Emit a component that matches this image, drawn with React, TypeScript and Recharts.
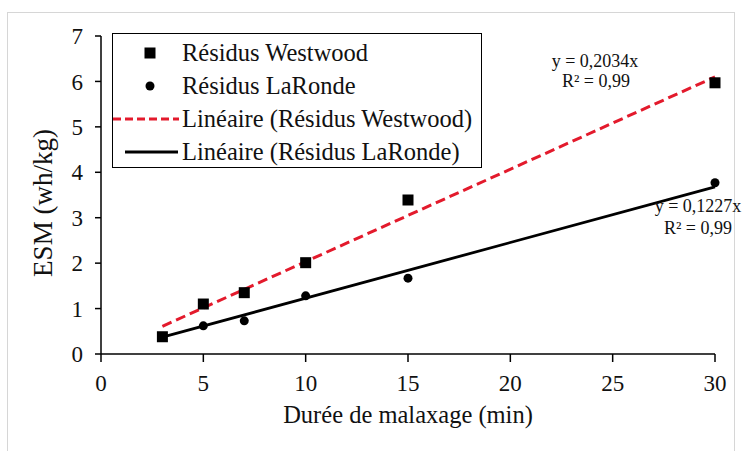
import { Label, Legend, Scatter, ScatterChart, XAxis, YAxis } from "recharts";

const xTicks = [0, 5, 10, 15, 20, 25, 30];
const yTicks = [0, 1, 2, 3, 4, 5, 6, 7];

const dureeMin = [3, 5, 7, 10, 15, 30];
const westwoodEsm = [0.38, 1.1, 1.35, 2.01, 3.39, 5.97];
const larondeEsm = [0.37, 0.62, 0.73, 1.28, 1.67, 3.77];

// droites de tendance (extrémités)
const trendX = [3, 30];
const westwoodTrend = [0.61, 6.1];
const larondeTrend = [0.37, 3.68];

const RED = "#E31A2C";
const FONT = "Liberation Serif, Times New Roman, serif";

const toPoints = (xs: number[], ys: number[]) =>
  xs.map((x, i) => ({ x, y: ys[i] }));

const westwoodData = toPoints(dureeMin, westwoodEsm);
const larondeData = toPoints(dureeMin, larondeEsm);
const westwoodTrendData = toPoints(trendX, westwoodTrend);
const larondeTrendData = toPoints(trendX, larondeTrend);

const Square = (p: any) => (
  <rect x={p.cx - 5.5} y={p.cy - 5.5} width={11} height={11} fill="#000" />
);
const Dot = (p: any) => <circle cx={p.cx} cy={p.cy} r={4.5} fill="#000" />;
const NoShape = () => <g />;

const tickStyle = { fill: "#111", fontSize: 23, fontFamily: FONT };

function LegendBox() {
  const row = { position: "relative", height: 33, display: "flex", alignItems: "center" } as const;
  const text = { position: "absolute", left: 69, whiteSpace: "nowrap" } as const;
  return (
    <div
      style={{
        border: "1.5px solid #000",
        width: 370,
        height: 135,
        boxSizing: "border-box",
        paddingTop: 2,
        fontFamily: FONT,
        fontSize: 24.5,
        color: "#111",
        background: "#fff",
      }}
    >
      <div style={row}>
        <svg width={12} height={12} style={{ position: "absolute", left: 31 }}>
          <rect x={0.5} y={0.5} width={11} height={11} fill="#000" />
        </svg>
        <span style={text}>Résidus Westwood</span>
      </div>
      <div style={row}>
        <svg width={10} height={10} style={{ position: "absolute", left: 32 }}>
          <circle cx={5} cy={5} r={4.5} fill="#000" />
        </svg>
        <span style={text}>Résidus LaRonde</span>
      </div>
      <div style={row}>
        <svg width={66} height={6} style={{ position: "absolute", left: 0 }}>
          <line x1={0} y1={3} x2={66} y2={3} stroke={RED} strokeWidth={3} strokeDasharray="8 4" />
        </svg>
        <span style={text}>Linéaire (Résidus Westwood)</span>
      </div>
      <div style={row}>
        <svg width={53} height={6} style={{ position: "absolute", left: 12 }}>
          <line x1={0} y1={3} x2={53} y2={3} stroke="#000" strokeWidth={3} />
        </svg>
        <span style={text}>Linéaire (Résidus LaRonde)</span>
      </div>
    </div>
  );
}

const note = (left: number, top: number): React.CSSProperties => ({
  position: "absolute",
  left,
  top,
  transform: "translate(-50%, -50%)",
  fontFamily: FONT,
  fontSize: 18,
  lineHeight: 1,
  whiteSpace: "nowrap",
  color: "#111",
});

export default function App() {
  return (
    <div
      style={{
        position: "absolute",
        left: 0,
        top: 0,
        width: 743,
        height: 451,
        background: "#fff",
        fontFamily: FONT,
        overflow: "hidden",
      }}
    >
      <div
        style={{
          position: "absolute",
          left: 7,
          top: 12,
          width: 728,
          height: 460,
          border: "1px solid #d6d6d6",
          boxSizing: "border-box",
        }}
      />
      <ScatterChart
        width={743}
        height={451}
        margin={{ top: 36, right: 28, bottom: 0, left: 0 }}
        style={{ fontFamily: FONT }}
      >
        <XAxis
          type="number"
          dataKey="x"
          domain={[0, 30]}
          ticks={xTicks}
          height={97}
          axisLine={{ stroke: "#000", strokeWidth: 1.5 }}
          tickLine={{ stroke: "#000", strokeWidth: 1.5 }}
          tickSize={8}
          tickMargin={13}
          tick={tickStyle}
        >
          <Label
            value="Durée de malaxage (min)"
            position="insideBottom"
            offset={28}
            style={{ fill: "#111", fontSize: 24.5, fontFamily: FONT }}
          />
        </XAxis>
        <YAxis
          type="number"
          dataKey="y"
          domain={[0, 7]}
          ticks={yTicks}
          width={101}
          axisLine={{ stroke: "#000", strokeWidth: 1.5 }}
          tickLine={{ stroke: "#000", strokeWidth: 1.5 }}
          tickSize={6}
          tickMargin={12}
          tick={tickStyle}
        >
          <Label
            content={({ viewBox }: any) => {
              const cx = viewBox.x + 43;
              const cy = viewBox.y + viewBox.height / 2 + 8;
              return (
                <text
                  x={cx}
                  y={cy}
                  transform={`rotate(-90 ${cx} ${cy})`}
                  textAnchor="middle"
                  dominantBaseline="central"
                  fill="#111"
                  fontSize={27}
                  style={{ fontFamily: FONT }}
                >
                  ESM (wh/kg)
                </text>
              );
            }}
          />
        </YAxis>
        <Legend
          layout="vertical"
          align="center"
          verticalAlign="middle"
          wrapperStyle={{ left: 112, top: 33, width: "auto", height: "auto" }}
          content={LegendBox}
        />
        <Scatter
          name="Linéaire (Résidus Westwood)"
          data={westwoodTrendData}
          line={{ stroke: RED, strokeWidth: 3, strokeDasharray: "10 5" }}
          shape={NoShape}
          isAnimationActive={false}
        />
        <Scatter
          name="Linéaire (Résidus LaRonde)"
          data={larondeTrendData}
          line={{ stroke: "#000", strokeWidth: 2.8 }}
          shape={NoShape}
          isAnimationActive={false}
        />
        <Scatter
          name="Résidus LaRonde"
          data={larondeData}
          shape={Dot}
          isAnimationActive={false}
        />
        <Scatter
          name="Résidus Westwood"
          data={westwoodData}
          shape={Square}
          isAnimationActive={false}
        />
      </ScatterChart>
      <div style={note(595, 61)}>y = 0,2034x</div>
      <div style={note(596, 81)}>R² = 0,99</div>
      <div style={note(698, 206)}>y = 0,1227x</div>
      <div style={note(698, 228)}>R² = 0,99</div>
    </div>
  );
}
